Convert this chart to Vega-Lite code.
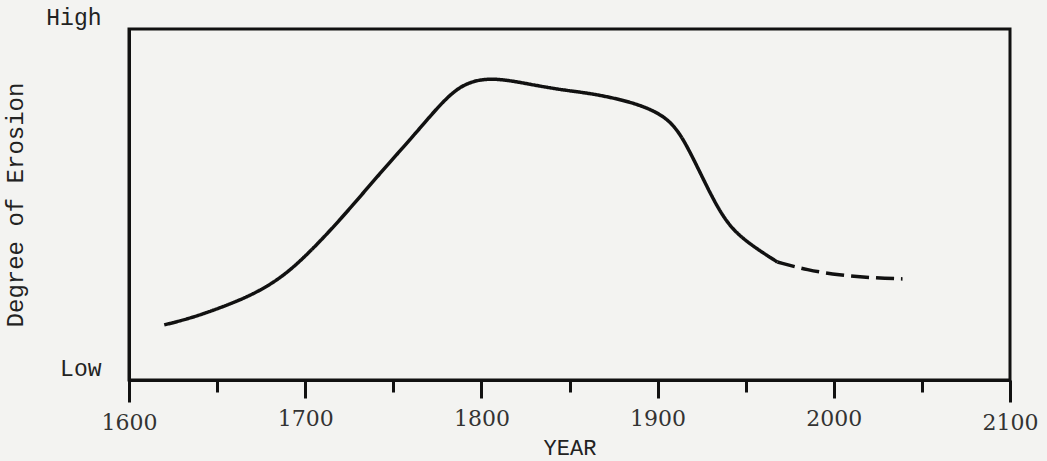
{
  "$schema": "https://vega.github.io/schema/vega-lite/v6.json",
  "width": 881,
  "height": 351,
  "autosize": {"type": "none"},
  "padding": {"left": 129, "top": 29, "right": 37, "bottom": 81},
  "background": "#f3f3f1",
  "config": {
    "view": {"stroke": "#111", "strokeWidth": 3},
    "axis": {"grid": false}
  },
  "data": {
    "values": [
      {"year": 1620, "erosion": 15.7, "part": "observed"},
      {"year": 1635, "erosion": 17.6, "part": "observed"},
      {"year": 1652, "erosion": 20.6, "part": "observed"},
      {"year": 1667, "erosion": 23.6, "part": "observed"},
      {"year": 1682, "erosion": 27.6, "part": "observed"},
      {"year": 1697, "erosion": 33.5, "part": "observed"},
      {"year": 1720, "erosion": 45.6, "part": "observed"},
      {"year": 1742, "erosion": 58.7, "part": "observed"},
      {"year": 1763, "erosion": 70.4, "part": "observed"},
      {"year": 1780, "erosion": 80.6, "part": "observed"},
      {"year": 1792, "erosion": 85.0, "part": "observed"},
      {"year": 1807, "erosion": 86.2, "part": "observed"},
      {"year": 1828, "erosion": 84.2, "part": "observed"},
      {"year": 1846, "erosion": 82.6, "part": "observed"},
      {"year": 1862, "erosion": 81.7, "part": "observed"},
      {"year": 1884, "erosion": 79.4, "part": "observed"},
      {"year": 1900, "erosion": 76.4, "part": "observed"},
      {"year": 1910, "erosion": 72.4, "part": "observed"},
      {"year": 1918, "erosion": 65.5, "part": "observed"},
      {"year": 1928, "erosion": 55.0, "part": "observed"},
      {"year": 1937, "erosion": 46.4, "part": "observed"},
      {"year": 1947, "erosion": 40.4, "part": "observed"},
      {"year": 1968, "erosion": 33.6, "part": "observed"},
      {"year": 1968, "erosion": 33.6, "part": "projected"},
      {"year": 1985, "erosion": 31.3, "part": "projected"},
      {"year": 2003, "erosion": 29.9, "part": "projected"},
      {"year": 2022, "erosion": 29.1, "part": "projected"},
      {"year": 2039, "erosion": 28.8, "part": "projected"}
    ]
  },
  "mark": {"type": "line", "interpolate": "basis", "color": "#111", "strokeWidth": 3.5, "strokeCap": "butt"},
  "encoding": {
    "x": {
      "field": "year",
      "type": "quantitative",
      "scale": {"domain": [1600, 2100], "nice": false, "zero": false},
      "axis": {
        "title": "YEAR",
        "titleFont": "Liberation Mono",
        "titleFontSize": 22,
        "titleFontWeight": "normal",
        "titleColor": "#222",
        "titlePadding": 4,
        "values": [1600, 1650, 1700, 1750, 1800, 1850, 1900, 1950, 2000, 2050, 2100],
        "labelExpr": "datum.value % 100 == 0 ? datum.label : ''",
        "format": "d",
        "labelFont": "DejaVu Serif",
        "labelFontSize": 22,
        "labelColor": "#333",
        "labelPadding": 10,
        "labelBaseline": "top",
        "labelFlush": false,
        "labelOverlap": false,
        "domain": true,
        "domainColor": "#111",
        "domainWidth": 3,
        "tickColor": "#111",
        "tickWidth": 3,
        "tickSize": {
          "condition": [
            {"test": "datum.value == 1600 || datum.value == 2100", "value": 22},
            {"test": "datum.value % 100 == 0", "value": 18}
          ],
          "value": 12
        }
      }
    },
    "y": {
      "field": "erosion",
      "type": "quantitative",
      "scale": {"domain": [0, 100], "nice": false},
      "axis": {
        "title": "Degree of Erosion",
        "titleFont": "Liberation Mono",
        "titleFontSize": 24,
        "titleFontWeight": "normal",
        "titleColor": "#222",
        "titlePadding": 18,
        "values": [0, 100],
        "labelExpr": "datum.value == 100 ? 'High' : 'Low'",
        "labelFont": "Liberation Mono",
        "labelFontSize": 23,
        "labelColor": "#222",
        "labelBaseline": "alphabetic",
        "labelOffset": -5,
        "labelPadding": 28,
        "ticks": false,
        "domain": true,
        "domainColor": "#111",
        "domainWidth": 3
      }
    },
    "strokeDash": {
      "field": "part",
      "type": "nominal",
      "scale": {"domain": ["observed", "projected"], "range": [[1, 0], [18, 7]]},
      "legend": null
    }
  }
}
